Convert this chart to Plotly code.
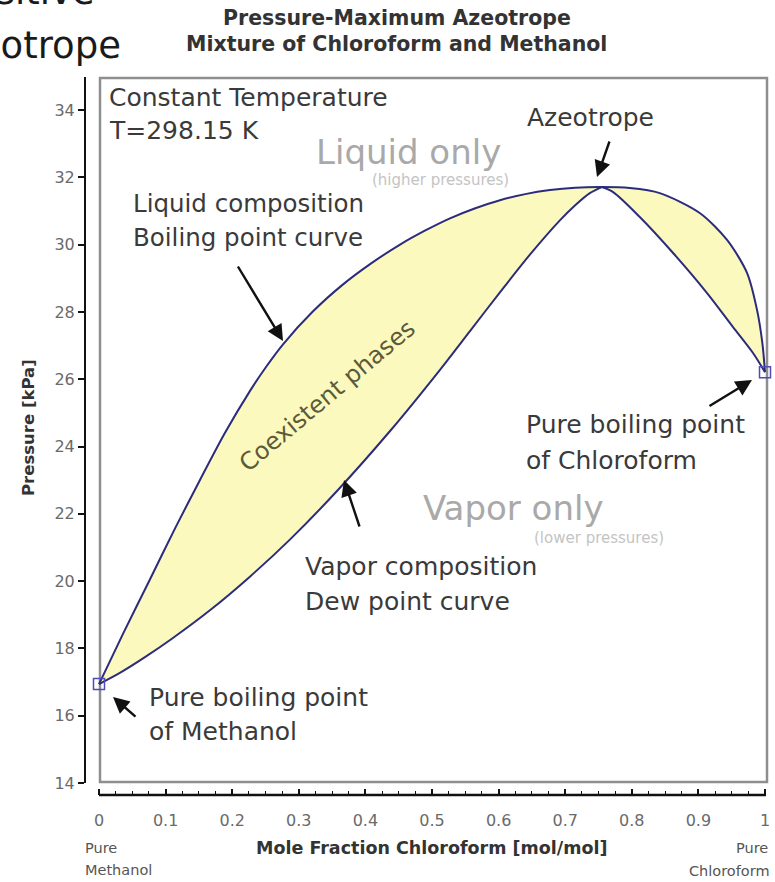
import plotly.graph_objects as go

# ---- data: P-x-y diagram, chloroform (1) / methanol (2) at 298.15 K ----
# liquid composition (bubble-point curve)
liq_x = [0.0, 0.036, 0.077, 0.114, 0.152, 0.189, 0.227, 0.251, 0.276, 0.321,
         0.366, 0.407, 0.452, 0.490, 0.527, 0.565, 0.602, 0.640, 0.677, 0.715,
         0.755, 0.797, 0.842, 0.902, 0.943, 0.973, 0.988, 0.996, 1.0]
liq_p = [16.94, 18.43, 20.07, 21.56, 23.02, 24.40, 25.66, 26.37, 27.03, 28.01,
         28.81, 29.42, 30.00, 30.42, 30.78, 31.08, 31.32, 31.50, 31.62, 31.69,
         31.71, 31.68, 31.53, 30.94, 30.14, 29.16, 28.06, 27.08, 26.21]
# vapor composition (dew-point curve)
vap_x = [0.0, 0.032, 0.069, 0.111, 0.167, 0.227, 0.287, 0.357, 0.437, 0.512,
         0.557, 0.602, 0.647, 0.692, 0.715, 0.737, 0.755,
         0.772, 0.812, 0.862, 0.913, 0.952, 0.982, 1.0]
vap_p = [16.94, 17.28, 17.74, 18.31, 19.14, 20.14, 21.24, 22.67, 24.46, 26.28,
         27.43, 28.58, 29.70, 30.72, 31.17, 31.53, 31.71,
         31.56, 30.82, 29.75, 28.56, 27.55, 26.78, 26.21]
# pure-component vapour pressures
pure_x = [0.0, 1.0]
pure_p = [16.94, 26.21]

x_tickvals = [0.0, 0.1, 0.2, 0.3, 0.4, 0.5, 0.6, 0.7, 0.8, 0.9, 1.0]
x_ticktext = ["0", "0.1", "0.2", "0.3", "0.4", "0.5", "0.6", "0.7", "0.8", "0.9", "1"]
y_tickvals = [14, 16, 18, 20, 22, 24, 26, 28, 30, 32, 34]

# ---- page geometry (pixels) ----
W, H = 775, 882
PL, PR, PT, PB = 85, 771, 72, 795          # plotting area edges
X0PX, X1PX = 99, 765                       # where x = 0 and x = 1 sit
Y14PX, Y34PX = 783, 110                    # where 14 kPa and 34 kPa sit


def x_at(px):
    return (px - X0PX) / (X1PX - X0PX)


def p_at(py):
    return 14 + (Y14PX - py) * 20.0 / (Y14PX - Y34PX)


def xp(px):
    return (px - PL) / (PR - PL)


def yp(py):
    return (PB - py) / (PB - PT)


FONT = "DejaVu Sans"
LINE = "#2c2c7c"
FILL = "#fbf9bd"

fig = go.Figure()

# two-phase region
fig.add_trace(go.Scatter(
    x=liq_x + vap_x[::-1], y=liq_p + vap_p[::-1],
    fill="toself", fillcolor=FILL, mode="none", hoverinfo="skip",
    showlegend=False))

# bubble-point curve
fig.add_trace(go.Scatter(
    x=liq_x, y=liq_p, mode="lines",
    line=dict(color=LINE, width=2, shape="spline", smoothing=0.8),
    showlegend=False))

# dew-point curve, drawn in two branches meeting at the azeotrope
iaz = vap_p.index(max(vap_p))
for sl in (slice(0, iaz + 1), slice(iaz, None)):
    fig.add_trace(go.Scatter(
        x=vap_x[sl], y=vap_p[sl], mode="lines",
        line=dict(color=LINE, width=2, shape="spline", smoothing=0.8),
        showlegend=False))

# pure-component points
fig.add_trace(go.Scatter(
    x=pure_x, y=pure_p, mode="markers",
    marker=dict(symbol="square-open", size=11, color="#4d4db5",
                line=dict(width=1.5, color="#4d4db5")),
    cliponaxis=False, showlegend=False))

shapes = [
    # frame
    dict(type="rect", xref="paper", yref="paper",
         x0=xp(100), x1=xp(767), y0=yp(782), y1=yp(78),
         line=dict(color="#8e8e8e", width=2.5), layer="below"),
    # detached y axis line
    dict(type="line", xref="paper", yref="paper",
         x0=0, x1=0, y0=yp(783), y1=yp(77),
         line=dict(color="#111", width=2)),
    # detached x axis line
    dict(type="line", xref="paper", yref="paper",
         x0=xp(99), x1=xp(766), y0=0, y1=0,
         line=dict(color="#111", width=2.5)),
]

ann = []


def text(s, px, py, size, color="#3a3a3a", anchor="left", angle=0, bold=False):
    ann.append(dict(
        text=f"<b>{s}</b>" if bold else s,
        x=xp(px), y=yp(py), xref="paper", yref="paper",
        xanchor=anchor, yanchor="middle", showarrow=False, textangle=angle,
        font=dict(family=FONT, size=size, color=color)))


def arrow(tail, head):
    ann.append(dict(
        text="", x=xp(head[0]), y=yp(head[1]), xref="paper", yref="paper",
        ax=tail[0] - head[0], ay=tail[1] - head[1],
        showarrow=True, arrowhead=2, arrowsize=1.35, arrowwidth=2.4,
        arrowcolor="#111", standoff=0))


# slide heading partly outside the page
text("Positive", 97, -8, 37, color="#1a1a1a", anchor="right")
text("Azeotrope", 123, 46, 37, color="#1a1a1a", anchor="right")

# chart title
text("Pressure-Maximum Azeotrope", 397, 18, 20.5, color="#333", anchor="center", bold=True)
text("Mixture of Chloroform and Methanol", 396, 44, 20.5, color="#333", anchor="center", bold=True)

# labels inside the frame
text("Constant Temperature", 107, 97, 25)
text("T=298.15 K", 107, 130, 25)
text("Azeotrope", 525, 117, 25)
text("Liquid only", 314, 152, 34, color="#a9a9a9")
text("(higher pressures)", 370, 180, 15, color="#c4c4c4")
text("Liquid composition", 131, 203, 24.5)
text("Boiling point curve", 131, 238, 24.5)
text("Coexistent phases", 327, 396, 24, color="#5c5a3a", anchor="center", angle=-40)
text("Pure boiling point", 524, 424, 25)
text("of Chloroform", 524, 460, 25)
text("Vapor only", 421, 508, 34, color="#a9a9a9")
text("(lower pressures)", 532, 538, 15, color="#c4c4c4")
text("Vapor composition", 303, 566, 25)
text("Dew point curve", 303, 601, 25)
text("Pure boiling point", 147, 697, 25)
text("of Methanol", 147, 731, 25)

# axis titles and end labels
text("Pressure [kPa]", 28, 428, 16.5, color="#333", anchor="center", angle=-90, bold=True)
text("Mole Fraction Chloroform [mol/mol]", 431, 848, 17.5, color="#333", anchor="center", bold=True)
text("Pure", 83, 848, 14.5, color="#555")
text("Methanol", 83, 870, 14.5, color="#555")
text("Pure", 770, 848, 14.5, color="#555", anchor="right")
text("Chloroform", 772, 871, 14.5, color="#555", anchor="right")

# pointers
arrow((610, 140), (597, 177))
arrow((237, 265), (283, 341))
arrow((708, 407), (752, 380))
arrow((360, 528), (344, 480))
arrow((137, 718), (113, 697))

fig.update_layout(
    width=W, height=H,
    margin=dict(l=PL, r=W - PR, t=PT, b=H - PB, pad=0),
    paper_bgcolor="white", plot_bgcolor="white",
    shapes=shapes, annotations=ann, showlegend=False,
    xaxis=dict(range=[x_at(PL), x_at(PR)], tickvals=x_tickvals, ticktext=x_ticktext,
               ticks="inside", ticklen=6, tickwidth=1.5, tickcolor="#111",
               minor=dict(dtick=0.025, ticks="inside", ticklen=4, tickwidth=1, tickcolor="#111"),
               showgrid=False, zeroline=False, showline=False,
               ticklabelstandoff=14,
               tickfont=dict(family=FONT, size=16, color="#6a6a6a")),
    yaxis=dict(range=[p_at(PB), p_at(PT)], tickvals=y_tickvals,
               ticks="outside", ticklen=6, tickwidth=1.5, tickcolor="#111",
               showgrid=False, zeroline=False, showline=False,
               tickfont=dict(family=FONT, size=16, color="#6a6a6a")),
)

fig.write_html("out.html")
